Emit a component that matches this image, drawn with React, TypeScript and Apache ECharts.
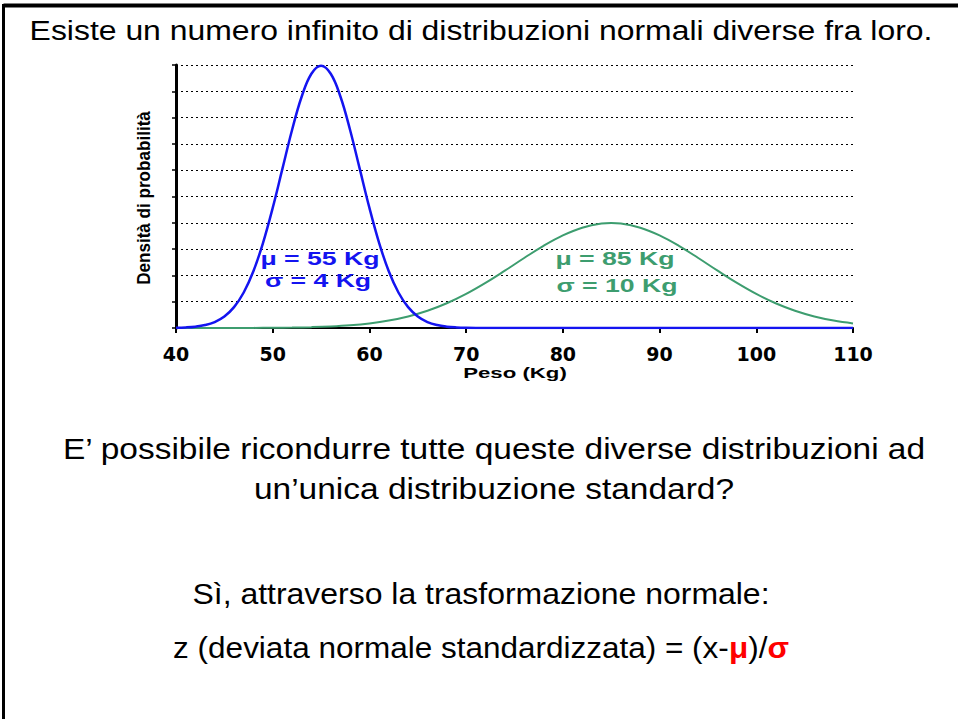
import React, { useEffect, useRef } from "react";
import * as echarts from "echarts";

const titleText = "Esiste un numero infinito di distribuzioni normali diverse fra loro.";
const yAxisName = "Densità di probabilità";
const xAxisName = "Peso (Kg)";

const blueX = [40, 41, 42, 43, 44, 45, 46, 47, 48, 49, 50, 51, 52, 53, 54, 55, 56, 57, 58, 59, 60, 61, 62, 63, 64, 65, 66, 67, 68, 69, 70, 72, 75, 80, 90, 100, 110];
const blueY = [0.00009, 0.00022, 0.00051, 0.00111, 0.00227, 0.00438, 0.00794, 0.0135, 0.02157, 0.03238, 0.04566, 0.06049, 0.07529, 0.08802, 0.09667, 0.09974, 0.09667, 0.08802, 0.07529, 0.06049, 0.04566, 0.03238, 0.02157, 0.0135, 0.00794, 0.00438, 0.00227, 0.00111, 0.00051, 0.00022, 0.00009, 0.00001, 0, 0, 0, 0, 0];

const greenX = [40, 42, 44, 46, 48, 50, 52, 54, 56, 58, 60, 62, 64, 66, 68, 70, 72, 74, 76, 78, 80, 82, 84, 85, 86, 88, 90, 92, 94, 96, 98, 100, 102, 104, 106, 108, 110];
const greenY = [0.000002, 0.000004, 0.000009, 0.00002, 0.000043, 0.000087, 0.000172, 0.000327, 0.000595, 0.00104, 0.00175, 0.00283, 0.0044, 0.00656, 0.0094, 0.01295, 0.01714, 0.02179, 0.02661, 0.03123, 0.03521, 0.03814, 0.0397, 0.03989, 0.0397, 0.03814, 0.03521, 0.03123, 0.02661, 0.02179, 0.01714, 0.01295, 0.0094, 0.00656, 0.0044, 0.00283, 0.00175];

const xTicks = [40, 50, 60, 70, 80, 90, 100, 110];
const blueLabels = ["μ = 55 Kg", "σ = 4 Kg"];
const greenLabels = ["μ = 85 Kg", "σ = 10 Kg"];
const questionLines = ["E’ possibile ricondurre tutte queste diverse distribuzioni ad", "un’unica distribuzione standard?"];
const answerLine = "Sì, attraverso la trasformazione normale:";
const formulaParts = ["z (deviata normale standardizzata) = (x-", "μ", ")/", "σ"];

const BLUE = "#1414f0";
const GREEN = "#3d9d6f";
const FONT = "'Liberation Sans', Arial, sans-serif";
const WIDE = "'DejaVu Sans', Verdana, sans-serif";

export default function App() {
  const ref = useRef<HTMLDivElement>(null);
  useEffect(() => {
    document.body.style.margin = "0";
    const chart = echarts.init(ref.current!, null, { renderer: "svg" });
    const toPairs = (xs: number[], ys: number[]) => xs.map((x, i) => [x, ys[i]]);
    const txt = (x: number, y: number, text: string, font: string, fill: string, scaleX = 1, extra: any = {}) => ({
      type: "text",
      x,
      y,
      scaleX,
      z: 10,
      style: { text, font, fill, align: "center", verticalAlign: "middle" },
      ...extra,
    });
    chart.setOption({
      animation: false,
      backgroundColor: "#ffffff",
      grid: { left: 176, right: 105, top: 65, bottom: 391 },
      xAxis: {
        type: "value",
        min: 40,
        max: 110,
        interval: 10,
        axisLine: { lineStyle: { color: "#000", width: 2 } },
        axisTick: { length: 5, lineStyle: { color: "#000", width: 2 } },
        axisLabel: {
          margin: 16,
          fontFamily: WIDE,
          fontWeight: "bold",
          fontSize: 19,
          color: "#000",
          formatter: (v: number) => (xTicks.includes(v) ? String(v) : ""),
        },
        splitLine: { show: false },
      },
      yAxis: {
        type: "value",
        min: 0,
        max: 0.1,
        interval: 0.01,
        axisLine: { show: true, lineStyle: { color: "#000", width: 3 } },
        axisTick: { show: true, length: 4, lineStyle: { color: "#000", width: 1.5 } },
        axisLabel: { show: false },
        splitLine: { show: true, lineStyle: { color: "#000", type: [2, 3], width: 1 } },
      },
      series: [
        {
          type: "line",
          data: toPairs(greenX, greenY),
          showSymbol: false,
          smooth: 0.4,
          lineStyle: { color: GREEN, width: 2 },
          z: 3,
        },
        {
          type: "line",
          data: toPairs(blueX, blueY),
          showSymbol: false,
          smooth: 0.4,
          lineStyle: { color: BLUE, width: 2.5 },
          z: 4,
        },
      ],
      graphic: [
        { type: "line", shape: { x1: 3.5, y1: 5.5, x2: 958, y2: 5.5 }, style: { stroke: "#000", lineWidth: 4 }, silent: true },
        { type: "line", shape: { x1: 3.5, y1: 4, x2: 3.5, y2: 719 }, style: { stroke: "#000", lineWidth: 3 }, silent: true },
        txt(481, 30, titleText, `28px ${FONT}`, "#000", 1.14),
        txt(144, 198, yAxisName, `bold 19px ${FONT}`, "#000", 0.9, { rotation: Math.PI / 2 }),
        txt(515, 373, xAxisName, `bold 15px ${FONT}`, "#000", 1.48),
        txt(320, 259, blueLabels[0], `bold 18px ${FONT}`, BLUE, 1.48),
        txt(318, 281, blueLabels[1], `bold 18px ${FONT}`, BLUE, 1.48),
        txt(615, 259, greenLabels[0], `bold 18px ${FONT}`, GREEN, 1.48),
        txt(617, 286, greenLabels[1], `bold 18px ${FONT}`, GREEN, 1.48),
        txt(494, 449, questionLines[0], `29px ${FONT}`, "#000", 1.155),
        txt(494, 489, questionLines[1], `29px ${FONT}`, "#000", 1.155),
        txt(481, 594, answerLine, `30px ${FONT}`, "#000", 1.065),
        {
          type: "text",
          x: 481,
          y: 648,
          scaleX: 1.05,
          z: 10,
          style: {
            text: `{a|${formulaParts[0]}}{r|${formulaParts[1]}}{a|${formulaParts[2]}}{r|${formulaParts[3]}}`,
            font: `30px ${FONT}`,
            align: "center",
            verticalAlign: "middle",
            rich: {
              a: { font: `30px ${FONT}`, fill: "#000", color: "#000" },
              r: { font: `bold 30px ${FONT}`, fill: "#ff0000", color: "#ff0000" },
            },
          },
        },
      ],
    });
    return () => chart.dispose();
  }, []);
  return <div ref={ref} style={{ width: 958, height: 719 }} />;
}
